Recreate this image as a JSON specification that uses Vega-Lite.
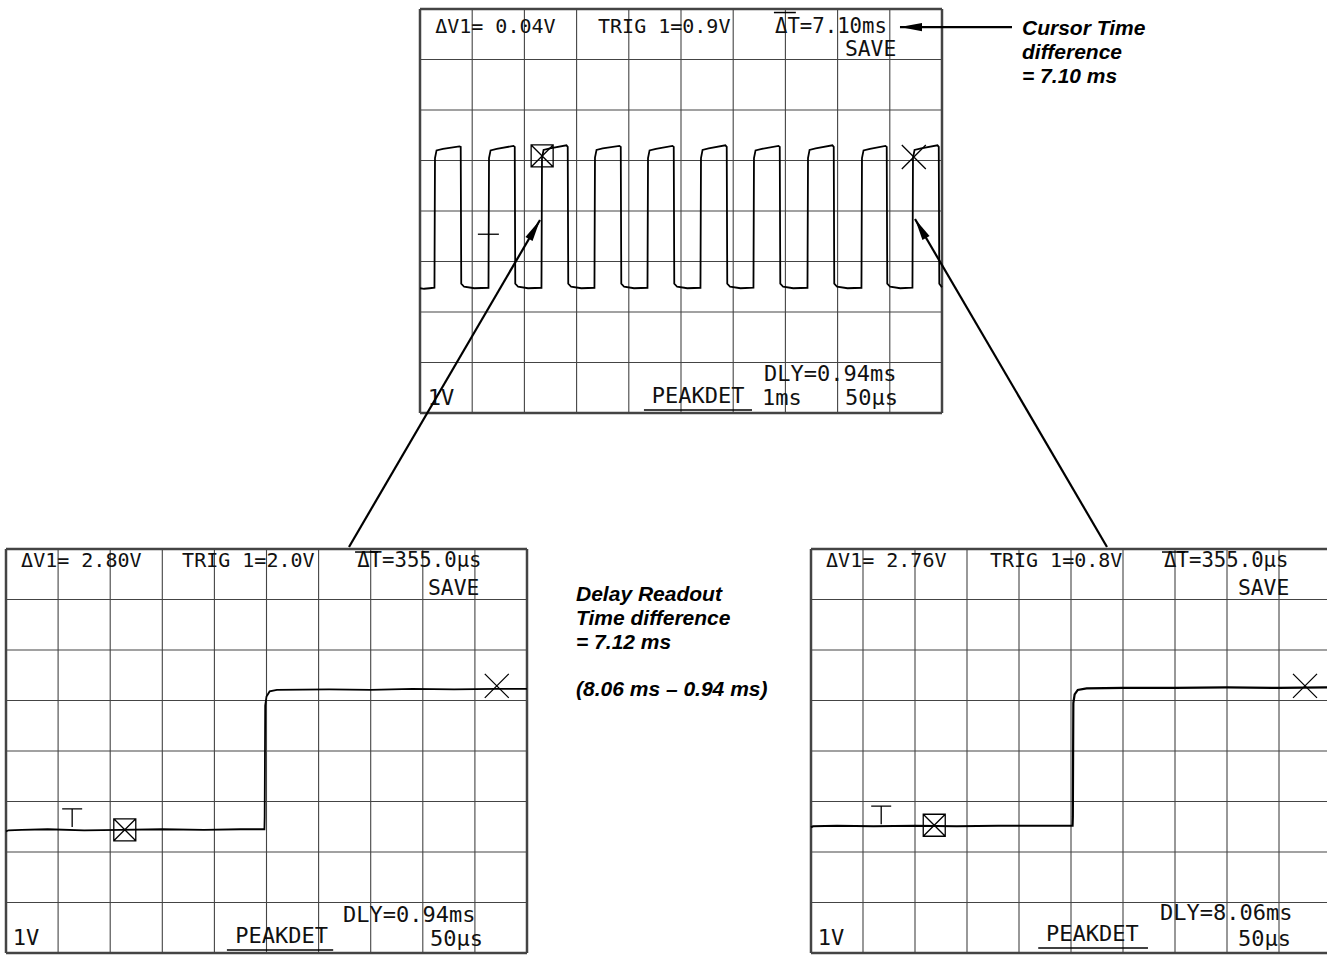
{
  "$schema": "https://vega.github.io/schema/vega-lite/v6.json",
  "width": 1327,
  "height": 955,
  "autosize": {"type": "none"},
  "padding": 0,
  "background": "white",
  "config": {"view": {"stroke": null}},
  "datasets": {
    "graticule": [
      {"x": 0, "y": 0, "x2": 0, "y2": 8, "kind": "border"},
      {"x": 1, "y": 0, "x2": 1, "y2": 8, "kind": "grid"},
      {"x": 2, "y": 0, "x2": 2, "y2": 8, "kind": "grid"},
      {"x": 3, "y": 0, "x2": 3, "y2": 8, "kind": "grid"},
      {"x": 4, "y": 0, "x2": 4, "y2": 8, "kind": "grid"},
      {"x": 5, "y": 0, "x2": 5, "y2": 8, "kind": "grid"},
      {"x": 6, "y": 0, "x2": 6, "y2": 8, "kind": "grid"},
      {"x": 7, "y": 0, "x2": 7, "y2": 8, "kind": "grid"},
      {"x": 8, "y": 0, "x2": 8, "y2": 8, "kind": "grid"},
      {"x": 9, "y": 0, "x2": 9, "y2": 8, "kind": "grid"},
      {"x": 10, "y": 0, "x2": 10, "y2": 8, "kind": "border"},
      {"x": 0, "y": 0, "x2": 10, "y2": 0, "kind": "border"},
      {"x": 0, "y": 1, "x2": 10, "y2": 1, "kind": "grid"},
      {"x": 0, "y": 2, "x2": 10, "y2": 2, "kind": "grid"},
      {"x": 0, "y": 3, "x2": 10, "y2": 3, "kind": "grid"},
      {"x": 0, "y": 4, "x2": 10, "y2": 4, "kind": "grid"},
      {"x": 0, "y": 5, "x2": 10, "y2": 5, "kind": "grid"},
      {"x": 0, "y": 6, "x2": 10, "y2": 6, "kind": "grid"},
      {"x": 0, "y": 7, "x2": 10, "y2": 7, "kind": "grid"},
      {"x": 0, "y": 8, "x2": 10, "y2": 8, "kind": "border"}
    ],
    "trace": [
      {"panel": "top", "x": 0.0, "y": 2.47}, {"panel": "top", "x": 0.08, "y": 2.46}, {"panel": "top", "x": 0.18, "y": 2.47},
      {"panel": "top", "x": 0.277, "y": 2.48}, {"panel": "top", "x": 0.287, "y": 5.05}, {"panel": "top", "x": 0.317, "y": 5.2}, {"panel": "top", "x": 0.44, "y": 5.23}, {"panel": "top", "x": 0.755, "y": 5.28}, {"panel": "top", "x": 0.78, "y": 5.27}, {"panel": "top", "x": 0.79, "y": 2.56}, {"panel": "top", "x": 0.845, "y": 2.5}, {"panel": "top", "x": 1.04, "y": 2.47},
      {"panel": "top", "x": 1.312, "y": 2.48}, {"panel": "top", "x": 1.322, "y": 5.05}, {"panel": "top", "x": 1.352, "y": 5.2}, {"panel": "top", "x": 1.47, "y": 5.23}, {"panel": "top", "x": 1.79, "y": 5.29}, {"panel": "top", "x": 1.815, "y": 5.27}, {"panel": "top", "x": 1.825, "y": 2.56}, {"panel": "top", "x": 1.88, "y": 2.5}, {"panel": "top", "x": 2.07, "y": 2.47},
      {"panel": "top", "x": 2.327, "y": 2.48}, {"panel": "top", "x": 2.337, "y": 5.05}, {"panel": "top", "x": 2.367, "y": 5.21}, {"panel": "top", "x": 2.49, "y": 5.24}, {"panel": "top", "x": 2.805, "y": 5.3}, {"panel": "top", "x": 2.83, "y": 5.27}, {"panel": "top", "x": 2.84, "y": 2.56}, {"panel": "top", "x": 2.895, "y": 2.5}, {"panel": "top", "x": 3.09, "y": 2.47},
      {"panel": "top", "x": 3.342, "y": 2.48}, {"panel": "top", "x": 3.352, "y": 5.06}, {"panel": "top", "x": 3.382, "y": 5.21}, {"panel": "top", "x": 3.5, "y": 5.24}, {"panel": "top", "x": 3.82, "y": 5.29}, {"panel": "top", "x": 3.846, "y": 5.27}, {"panel": "top", "x": 3.856, "y": 2.56}, {"panel": "top", "x": 3.91, "y": 2.5}, {"panel": "top", "x": 4.1, "y": 2.47},
      {"panel": "top", "x": 4.358, "y": 2.48}, {"panel": "top", "x": 4.368, "y": 5.05}, {"panel": "top", "x": 4.398, "y": 5.2}, {"panel": "top", "x": 4.52, "y": 5.23}, {"panel": "top", "x": 4.836, "y": 5.29}, {"panel": "top", "x": 4.861, "y": 5.27}, {"panel": "top", "x": 4.871, "y": 2.56}, {"panel": "top", "x": 4.926, "y": 2.5}, {"panel": "top", "x": 5.12, "y": 2.47},
      {"panel": "top", "x": 5.373, "y": 2.48}, {"panel": "top", "x": 5.383, "y": 5.05}, {"panel": "top", "x": 5.413, "y": 5.21}, {"panel": "top", "x": 5.53, "y": 5.24}, {"panel": "top", "x": 5.85, "y": 5.3}, {"panel": "top", "x": 5.876, "y": 5.27}, {"panel": "top", "x": 5.886, "y": 2.56}, {"panel": "top", "x": 5.94, "y": 2.5}, {"panel": "top", "x": 6.14, "y": 2.47},
      {"panel": "top", "x": 6.388, "y": 2.48}, {"panel": "top", "x": 6.398, "y": 5.05}, {"panel": "top", "x": 6.428, "y": 5.2}, {"panel": "top", "x": 6.55, "y": 5.23}, {"panel": "top", "x": 6.867, "y": 5.29}, {"panel": "top", "x": 6.892, "y": 5.27}, {"panel": "top", "x": 6.902, "y": 2.56}, {"panel": "top", "x": 6.957, "y": 2.5}, {"panel": "top", "x": 7.15, "y": 2.47},
      {"panel": "top", "x": 7.423, "y": 2.48}, {"panel": "top", "x": 7.433, "y": 5.05}, {"panel": "top", "x": 7.463, "y": 5.21}, {"panel": "top", "x": 7.58, "y": 5.24}, {"panel": "top", "x": 7.9, "y": 5.3}, {"panel": "top", "x": 7.926, "y": 5.27}, {"panel": "top", "x": 7.936, "y": 2.56}, {"panel": "top", "x": 7.99, "y": 2.5}, {"panel": "top", "x": 8.19, "y": 2.47},
      {"panel": "top", "x": 8.457, "y": 2.48}, {"panel": "top", "x": 8.467, "y": 5.05}, {"panel": "top", "x": 8.497, "y": 5.2}, {"panel": "top", "x": 8.62, "y": 5.23}, {"panel": "top", "x": 8.916, "y": 5.29}, {"panel": "top", "x": 8.941, "y": 5.27}, {"panel": "top", "x": 8.951, "y": 2.56}, {"panel": "top", "x": 9.006, "y": 2.5}, {"panel": "top", "x": 9.2, "y": 2.47},
      {"panel": "top", "x": 9.434, "y": 2.48}, {"panel": "top", "x": 9.444, "y": 5.05}, {"panel": "top", "x": 9.474, "y": 5.21}, {"panel": "top", "x": 9.6, "y": 5.24}, {"panel": "top", "x": 9.913, "y": 5.3}, {"panel": "top", "x": 9.938, "y": 5.27}, {"panel": "top", "x": 9.948, "y": 2.56}, {"panel": "top", "x": 9.99, "y": 2.5}, {"panel": "top", "x": 10.0, "y": 2.49},
      {"panel": "bl", "x": 0.0, "y": 2.41}, {"panel": "bl", "x": 0.05, "y": 2.43}, {"panel": "bl", "x": 0.3, "y": 2.44}, {"panel": "bl", "x": 0.8, "y": 2.45}, {"panel": "bl", "x": 1.5, "y": 2.43}, {"panel": "bl", "x": 2.2, "y": 2.44}, {"panel": "bl", "x": 3.0, "y": 2.45}, {"panel": "bl", "x": 3.8, "y": 2.44}, {"panel": "bl", "x": 4.5, "y": 2.45}, {"panel": "bl", "x": 4.96, "y": 2.45}, {"panel": "bl", "x": 4.965, "y": 2.7}, {"panel": "bl", "x": 4.975, "y": 4.9}, {"panel": "bl", "x": 5.0, "y": 5.08}, {"panel": "bl", "x": 5.06, "y": 5.18}, {"panel": "bl", "x": 5.2, "y": 5.21}, {"panel": "bl", "x": 6.2, "y": 5.22}, {"panel": "bl", "x": 7.0, "y": 5.21}, {"panel": "bl", "x": 7.8, "y": 5.23}, {"panel": "bl", "x": 8.6, "y": 5.22}, {"panel": "bl", "x": 9.4, "y": 5.23}, {"panel": "bl", "x": 10.0, "y": 5.23},
      {"panel": "br", "x": 0.0, "y": 2.49}, {"panel": "br", "x": 0.04, "y": 2.51}, {"panel": "br", "x": 0.5, "y": 2.52}, {"panel": "br", "x": 1.2, "y": 2.51}, {"panel": "br", "x": 2.0, "y": 2.52}, {"panel": "br", "x": 2.8, "y": 2.51}, {"panel": "br", "x": 3.6, "y": 2.52}, {"panel": "br", "x": 4.4, "y": 2.52}, {"panel": "br", "x": 5.03, "y": 2.52}, {"panel": "br", "x": 5.035, "y": 2.7}, {"panel": "br", "x": 5.045, "y": 4.95}, {"panel": "br", "x": 5.07, "y": 5.12}, {"panel": "br", "x": 5.13, "y": 5.21}, {"panel": "br", "x": 5.3, "y": 5.24}, {"panel": "br", "x": 6.0, "y": 5.25}, {"panel": "br", "x": 7.0, "y": 5.25}, {"panel": "br", "x": 8.0, "y": 5.26}, {"panel": "br", "x": 9.0, "y": 5.25}, {"panel": "br", "x": 9.95, "y": 5.26}
    ],
    "labels": [
      {"panel": "top", "x": 0.29, "y": 7.64, "text": "ΔV1= 0.04V", "row": "header"},
      {"panel": "top", "x": 3.41, "y": 7.64, "text": "TRIG 1=0.9V", "row": "header"},
      {"panel": "top", "x": 6.8, "y": 7.64, "text": "ΔT=7.10ms", "row": "cursor"},
      {"panel": "top", "x": 8.14, "y": 7.19, "text": "SAVE", "row": "save"},
      {"panel": "top", "x": 0.15, "y": 0.3, "text": "1V", "row": "footer"},
      {"panel": "top", "x": 4.44, "y": 0.34, "text": "PEAKDET", "row": "footer"},
      {"panel": "top", "x": 6.55, "y": 0.29, "text": "1ms", "row": "footer"},
      {"panel": "top", "x": 8.14, "y": 0.29, "text": "50µs", "row": "footer"},
      {"panel": "top", "x": 6.59, "y": 0.77, "text": "DLY=0.94ms", "row": "footer"},
      {"panel": "bl", "x": 0.29, "y": 7.76, "text": "ΔV1= 2.80V", "row": "header"},
      {"panel": "bl", "x": 3.38, "y": 7.76, "text": "TRIG 1=2.0V", "row": "header"},
      {"panel": "bl", "x": 6.74, "y": 7.76, "text": "ΔT=355.0µs", "row": "cursor"},
      {"panel": "bl", "x": 8.1, "y": 7.21, "text": "SAVE", "row": "save"},
      {"panel": "bl", "x": 0.13, "y": 0.3, "text": "1V", "row": "footer"},
      {"panel": "bl", "x": 4.4, "y": 0.34, "text": "PEAKDET", "row": "footer"},
      {"panel": "bl", "x": 6.47, "y": 0.75, "text": "DLY=0.94ms", "row": "footer"},
      {"panel": "bl", "x": 8.14, "y": 0.28, "text": "50µs", "row": "footer"},
      {"panel": "br", "x": 0.29, "y": 7.76, "text": "ΔV1= 2.76V", "row": "header"},
      {"panel": "br", "x": 3.44, "y": 7.76, "text": "TRIG 1=0.8V", "row": "header"},
      {"panel": "br", "x": 6.79, "y": 7.76, "text": "ΔT=355.0µs", "row": "cursor"},
      {"panel": "br", "x": 8.21, "y": 7.21, "text": "SAVE", "row": "save"},
      {"panel": "br", "x": 0.13, "y": 0.3, "text": "1V", "row": "footer"},
      {"panel": "br", "x": 4.52, "y": 0.38, "text": "PEAKDET", "row": "footer"},
      {"panel": "br", "x": 6.71, "y": 0.79, "text": "DLY=8.06ms", "row": "footer"},
      {"panel": "br", "x": 8.21, "y": 0.28, "text": "50µs", "row": "footer"}
    ],
    "strokes": [
      {"panel": "top", "x": 6.78, "y": 7.93, "x2": 7.2, "y2": 7.93},
      {"panel": "top", "x": 4.29, "y": 0.06, "x2": 6.36, "y2": 0.06},
      {"panel": "bl", "x": 6.7, "y": 7.94, "x2": 7.14, "y2": 7.94},
      {"panel": "bl", "x": 4.24, "y": 0.06, "x2": 6.28, "y2": 0.06},
      {"panel": "br", "x": 6.75, "y": 7.94, "x2": 7.19, "y2": 7.94},
      {"panel": "br", "x": 4.37, "y": 0.1, "x2": 6.48, "y2": 0.1}
    ],
    "markers": [
      {"panel": "top", "x": 2.34, "y": 5.09, "kind": "box"},
      {"panel": "top", "x": 9.46, "y": 5.07, "kind": "cross"},
      {"panel": "top", "x": 1.31, "y": 3.54, "kind": "dash"},
      {"panel": "bl", "x": 1.27, "y": 2.675, "kind": "tee"},
      {"panel": "bl", "x": 2.28, "y": 2.44, "kind": "box"},
      {"panel": "bl", "x": 9.42, "y": 5.29, "kind": "cross"},
      {"panel": "br", "x": 1.35, "y": 2.73, "kind": "tee"},
      {"panel": "br", "x": 2.37, "y": 2.53, "kind": "box"},
      {"panel": "br", "x": 9.5, "y": 5.29, "kind": "cross"}
    ],
    "arrows": [
      {"x": -1.36, "y": -2.653, "x2": 2.299, "y2": 3.822, "angle": 30},
      {"x": 13.161, "y": -2.653, "x2": 9.483, "y2": 3.842, "angle": 330},
      {"x": 11.341, "y": 7.643, "x2": 9.195, "y2": 7.643, "angle": 270}
    ],
    "notes": [
      {"x": 11.533, "y": 7.604, "text": "Cursor Time"},
      {"x": 11.533, "y": 7.129, "text": "difference"},
      {"x": 11.533, "y": 6.653, "text": "= 7.10 ms"},
      {"x": 2.989, "y": -3.604, "text": "Delay Readout"},
      {"x": 2.989, "y": -4.079, "text": "Time difference"},
      {"x": 2.989, "y": -4.554, "text": "= 7.12 ms"},
      {"x": 2.989, "y": -5.485, "text": "(8.06 ms – 0.94 ms)"}
    ]
  },
  "layer": [
    {
      "encoding": {
        "x": {"field": "x", "type": "quantitative", "scale": {"domain": [-8.046, 17.3755], "nice": false, "zero": false}, "axis": null},
        "y": {"field": "y", "type": "quantitative", "scale": {"domain": [-10.7327, 8.1782], "nice": false, "zero": false}, "axis": null}
      },
      "layer": [
        {"data": {"name": "graticule"}, "mark": {"type": "rule", "color": "#444444"},
         "encoding": {"x2": {"field": "x2"}, "y2": {"field": "y2"},
           "strokeWidth": {"condition": {"test": "datum.kind === 'border'", "value": 2.5}, "value": 1.1}}},
        {"data": {"name": "trace"}, "transform": [{"filter": "datum.panel === 'top'"}],
         "mark": {"type": "line", "color": "black", "strokeWidth": 1.8}},
        {"data": {"name": "labels"}, "transform": [{"filter": "datum.panel === 'top'"}],
         "mark": {"type": "text", "align": "left", "baseline": "middle", "font": "DejaVu Sans Mono", "color": "#111"},
         "encoding": {"text": {"field": "text"},
           "size": {"field": "row", "type": "ordinal", "scale": {"domain": ["header", "cursor", "save", "footer"], "range": [20, 22, 21, 23]}, "legend": null}}},
        {"data": {"name": "strokes"}, "transform": [{"filter": "datum.panel === 'top'"}],
         "mark": {"type": "rule", "color": "black", "strokeWidth": 1.5},
         "encoding": {"x2": {"field": "x2"}, "y2": {"field": "y2"}}},
        {"data": {"name": "markers"}, "transform": [{"filter": "datum.panel === 'top' && datum.kind === 'box'"}],
         "mark": {"type": "point", "shape": "M-1,-1H1V1H-1ZM-1,-1L1,1M-1,1L1,-1", "filled": false, "color": "black", "opacity": 1, "strokeWidth": 1.3, "size": 484}},
        {"data": {"name": "markers"}, "transform": [{"filter": "datum.panel === 'top' && datum.kind === 'cross'"}],
         "mark": {"type": "point", "shape": "M-1,-1L1,1M-1,1L1,-1", "filled": false, "color": "black", "opacity": 1, "strokeWidth": 1.3, "size": 576}},
        {"data": {"name": "markers"}, "transform": [{"filter": "datum.panel === 'top' && datum.kind === 'dash'"}],
         "mark": {"type": "point", "shape": "M-1,0H1", "filled": false, "color": "black", "opacity": 1, "strokeWidth": 1.3, "size": 441}},
        {"data": {"name": "arrows"}, "mark": {"type": "rule", "color": "black", "strokeWidth": 2.2},
         "encoding": {"x2": {"field": "x2"}, "y2": {"field": "y2"}}},
        {"data": {"name": "arrows"}, "mark": {"type": "point", "shape": "M0,0L0.75,4L-0.75,4Z", "filled": true, "color": "black", "opacity": 1, "size": 121},
         "encoding": {"x": {"field": "x2", "type": "quantitative"}, "y": {"field": "y2", "type": "quantitative"},
           "angle": {"field": "angle", "type": "quantitative", "scale": null}}},
        {"data": {"name": "notes"},
         "mark": {"type": "text", "align": "left", "baseline": "middle", "font": "Liberation Sans", "fontWeight": "bold", "fontStyle": "italic", "fontSize": 21, "color": "black"},
         "encoding": {"text": {"field": "text"}}}
      ]
    },
    {
      "encoding": {
        "x": {"field": "x", "type": "quantitative", "scale": {"domain": [-0.1152, 25.355], "nice": false, "zero": false}, "axis": null},
        "y": {"field": "y", "type": "quantitative", "scale": {"domain": [-0.0396, 18.871], "nice": false, "zero": false}, "axis": null}
      },
      "layer": [
        {"data": {"name": "graticule"}, "mark": {"type": "rule", "color": "#444444"},
         "encoding": {"x2": {"field": "x2"}, "y2": {"field": "y2"},
           "strokeWidth": {"condition": {"test": "datum.kind === 'border'", "value": 2.5}, "value": 1.1}}},
        {"data": {"name": "trace"}, "transform": [{"filter": "datum.panel === 'bl'"}],
         "mark": {"type": "line", "color": "black", "strokeWidth": 1.8}},
        {"data": {"name": "labels"}, "transform": [{"filter": "datum.panel === 'bl'"}],
         "mark": {"type": "text", "align": "left", "baseline": "middle", "font": "DejaVu Sans Mono", "color": "#111"},
         "encoding": {"text": {"field": "text"},
           "size": {"field": "row", "type": "ordinal", "scale": {"domain": ["header", "cursor", "save", "footer"], "range": [20, 22, 21, 23]}, "legend": null}}},
        {"data": {"name": "strokes"}, "transform": [{"filter": "datum.panel === 'bl'"}],
         "mark": {"type": "rule", "color": "black", "strokeWidth": 1.5},
         "encoding": {"x2": {"field": "x2"}, "y2": {"field": "y2"}}},
        {"data": {"name": "markers"}, "transform": [{"filter": "datum.panel === 'bl' && datum.kind === 'box'"}],
         "mark": {"type": "point", "shape": "M-1,-1H1V1H-1ZM-1,-1L1,1M-1,1L1,-1", "filled": false, "color": "black", "opacity": 1, "strokeWidth": 1.3, "size": 484}},
        {"data": {"name": "markers"}, "transform": [{"filter": "datum.panel === 'bl' && datum.kind === 'cross'"}],
         "mark": {"type": "point", "shape": "M-1,-1L1,1M-1,1L1,-1", "filled": false, "color": "black", "opacity": 1, "strokeWidth": 1.3, "size": 576}},
        {"data": {"name": "markers"}, "transform": [{"filter": "datum.panel === 'bl' && datum.kind === 'tee'"}],
         "mark": {"type": "point", "shape": "M-1,-0.9H1M0,-0.9V0.9", "filled": false, "color": "black", "opacity": 1, "strokeWidth": 1.3, "size": 400}}
      ]
    },
    {
      "encoding": {
        "x": {"field": "x", "type": "quantitative", "scale": {"domain": [-15.596, 9.923], "nice": false, "zero": false}, "axis": null},
        "y": {"field": "y", "type": "quantitative", "scale": {"domain": [-0.0396, 18.871], "nice": false, "zero": false}, "axis": null}
      },
      "layer": [
        {"data": {"name": "graticule"}, "mark": {"type": "rule", "color": "#444444"},
         "encoding": {"x2": {"field": "x2"}, "y2": {"field": "y2"},
           "strokeWidth": {"condition": {"test": "datum.kind === 'border'", "value": 2.5}, "value": 1.1}}},
        {"data": {"name": "trace"}, "transform": [{"filter": "datum.panel === 'br'"}],
         "mark": {"type": "line", "color": "black", "strokeWidth": 2.2}},
        {"data": {"name": "labels"}, "transform": [{"filter": "datum.panel === 'br'"}],
         "mark": {"type": "text", "align": "left", "baseline": "middle", "font": "DejaVu Sans Mono", "color": "#111"},
         "encoding": {"text": {"field": "text"},
           "size": {"field": "row", "type": "ordinal", "scale": {"domain": ["header", "cursor", "save", "footer"], "range": [20, 22, 21, 23]}, "legend": null}}},
        {"data": {"name": "strokes"}, "transform": [{"filter": "datum.panel === 'br'"}],
         "mark": {"type": "rule", "color": "black", "strokeWidth": 1.5},
         "encoding": {"x2": {"field": "x2"}, "y2": {"field": "y2"}}},
        {"data": {"name": "markers"}, "transform": [{"filter": "datum.panel === 'br' && datum.kind === 'box'"}],
         "mark": {"type": "point", "shape": "M-1,-1H1V1H-1ZM-1,-1L1,1M-1,1L1,-1", "filled": false, "color": "black", "opacity": 1, "strokeWidth": 1.3, "size": 484}},
        {"data": {"name": "markers"}, "transform": [{"filter": "datum.panel === 'br' && datum.kind === 'cross'"}],
         "mark": {"type": "point", "shape": "M-1,-1L1,1M-1,1L1,-1", "filled": false, "color": "black", "opacity": 1, "strokeWidth": 1.3, "size": 576}},
        {"data": {"name": "markers"}, "transform": [{"filter": "datum.panel === 'br' && datum.kind === 'tee'"}],
         "mark": {"type": "point", "shape": "M-1,-0.9H1M0,-0.9V0.9", "filled": false, "color": "black", "opacity": 1, "strokeWidth": 1.3, "size": 400}}
      ]
    }
  ],
  "resolve": {"scale": {"x": "independent", "y": "independent"}}
}
